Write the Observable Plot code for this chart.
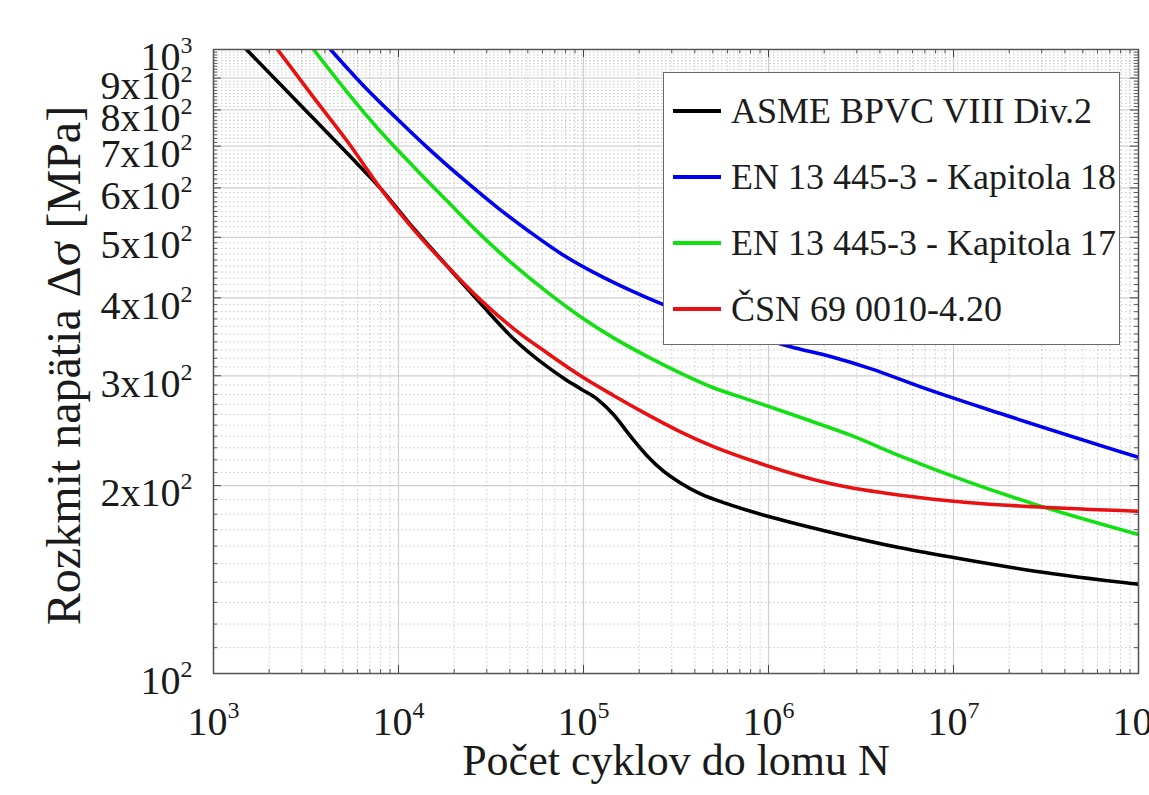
<!DOCTYPE html>
<html>
<head>
<meta charset="utf-8">
<script src="https://cdn.jsdelivr.net/npm/d3@7"></script>
<script src="https://cdn.jsdelivr.net/npm/@observablehq/plot@0.6"></script>
<style>
  html, body { margin: 0; padding: 0; background: #fff; overflow: hidden; }
  #wrap { position: relative; width: 1149px; height: 795px; }
  #legend {
    position: absolute; left: 663px; top: 72px; width: 455px; height: 271px;
    border: 1.5px solid #6a6a6a; background: #fff;
    font-family: "Liberation Serif", "Times New Roman", serif; font-size: 36px; color: #1c1c1c;
  }
  .row { position: absolute; left: 0; height: 40px; display: flex; align-items: center; white-space: nowrap; }
  .swatch { width: 48px; height: 4px; margin-left: 9px; margin-right: 10px; }
</style>
</head>
<body>
<div id="wrap"></div>
<script>
// ---- Axis ticks / labels ----
const xTickValues = [1e3, 1e4, 1e5, 1e6, 1e7, 1e8];
const xTickLabels = ["10^3", "10^4", "10^5", "10^6", "10^7", "10^8"];
const yTickValues = [100, 200, 300, 400, 500, 600, 700, 800, 900, 1000];
const yTickLabels = ["10^2", "2x10^2", "3x10^2", "4x10^2", "5x10^2", "6x10^2", "7x10^2", "8x10^2", "9x10^2", "10^3"];
const xTitle = "Počet cyklov do lomu N";
const yTitle = "Rozkmit napätia Δσ [MPa]";

// ---- Series ----
const seriesNames = ["ASME BPVC VIII Div.2", "EN 13 445-3 - Kapitola 18", "EN 13 445-3 - Kapitola 17", "ČSN 69 0010-4.20"];
const seriesColors = ["#000000", "#0000f0", "#12e012", "#e81010"];

const asmeN = [1507, 2302, 3475, 5300, 7990, 12060, 18400, 27740, 41850, 63900, 79940, 96300, 119100, 145200, 179500, 221800, 270600, 334300, 429000, 600000, 906000, 2246000, 5170000, 11910000, 27060000, 100000000];
const asmeS = [1000, 879, 775, 681, 599, 517, 449, 392, 344, 310, 296, 286, 275, 260, 240, 223, 211, 202, 194, 187, 180, 168, 159, 152, 146, 139];

const en18N = [4290, 6470, 9880, 14890, 22460, 34280, 51760, 77950, 119100, 179500, 270600, 429000, 751000, 1315000, 2163000, 3558000, 6637000, 17950000, 100000000];
const en18S = [1000, 875, 773, 689, 619, 558, 509, 468, 436, 411, 390, 371, 351, 334, 322, 308, 288, 261, 222];

const en17N = [3475, 5300, 7990, 12060, 18400, 27740, 41850, 63900, 96300, 145200, 221800, 334300, 504500, 769700, 1161000, 1750000, 2774000, 5170000, 11910000, 27060000, 100000000];
const en17S = [1000, 853, 739, 649, 571, 505, 452, 408, 373, 345, 322, 303, 287, 275, 264, 253, 241, 223, 203, 187, 167];

const csnN = [2218, 3475, 5300, 7990, 12060, 18400, 27740, 41850, 63900, 96300, 145200, 221800, 334300, 504500, 906000, 2246000, 5170000, 11910000, 27060000, 100000000];
const csnS = [1000, 838, 712, 599, 515, 449, 397, 357, 326, 300, 279, 260, 244, 231, 217, 201, 193, 188, 185, 182];

const seriesData = [[asmeN, asmeS], [en18N, en18S], [en17N, en17S], [csnN, csnS]];
const rows = seriesData.flatMap(([N, S], i) => N.map((n, j) => ({series: seriesNames[i], N: n, S: S[j]})));

// minor ticks
const xMinor = [];
for (const dec of [1e3, 1e4, 1e5, 1e6, 1e7]) for (let k = 2; k <= 9; k++) xMinor.push(k * dec);
const yMinor = [];
for (let v = 110; v < 1000; v += 10) if (v % 100 !== 0) yMinor.push(v);

const W = 1149, H = 795, mL = 213, mR = 11, mT = 49, mB = 122;
const fw = W - mL - mR, fh = H - mT - mB;
const font = "Liberation Serif";

const chart = Plot.plot({
  width: W, height: H,
  marginLeft: mL, marginRight: mR, marginTop: mT, marginBottom: mB,
  style: {fontFamily: font, background: "#fff", overflow: "visible"},
  x: {type: "log", domain: [1e3, 1e8], axis: null},
  y: {type: "log", domain: [100, 1000], axis: null},
  color: {domain: seriesNames, range: seriesColors},
  marks: [
    Plot.gridX(xMinor, {stroke: "#c8c8c8", strokeOpacity: 1, strokeDasharray: "1.5,2.5", strokeWidth: 1}),
    Plot.gridY(yMinor, {stroke: "#c8c8c8", strokeOpacity: 1, strokeDasharray: "1.5,2.5", strokeWidth: 1}),
    Plot.gridX(xTickValues, {stroke: "#cfcfcf", strokeOpacity: 1, strokeWidth: 1.2}),
    Plot.gridY(yTickValues, {stroke: "#cfcfcf", strokeOpacity: 1, strokeWidth: 1.2}),
    // inward ticks on all four sides
    Plot.tickX(xMinor, {x: d => d, insetTop: fh - 4, stroke: "#555"}),
    Plot.tickX(xMinor, {x: d => d, insetBottom: fh - 4, stroke: "#555"}),
    Plot.tickX(xTickValues, {x: d => d, insetTop: fh - 8, stroke: "#444"}),
    Plot.tickX(xTickValues, {x: d => d, insetBottom: fh - 8, stroke: "#444"}),
    Plot.tickY(yMinor, {y: d => d, insetRight: fw - 4, stroke: "#555"}),
    Plot.tickY(yMinor, {y: d => d, insetLeft: fw - 4, stroke: "#555"}),
    Plot.tickY(yTickValues, {y: d => d, insetRight: fw - 8, stroke: "#444"}),
    Plot.tickY(yTickValues, {y: d => d, insetLeft: fw - 8, stroke: "#444"}),
    Plot.line(rows, {x: "N", y: "S", z: "series", stroke: "series", strokeWidth: 3.6, curve: "monotone-x", clip: true}),
    Plot.frame({stroke: "#555", strokeWidth: 1.5}),
    // tick labels
    Plot.text(xTickValues, {x: d => d, frameAnchor: "bottom", dy: 61, text: (d, i) => xTickLabels[i], fontSize: 40, fill: "#1a1a1a", textAnchor: "middle"}),
    Plot.text(yTickValues, {y: d => d, frameAnchor: "left", dx: -21, dy: 8, text: (d, i) => yTickLabels[i], fontSize: 40, fill: "#1a1a1a", textAnchor: "end"}),
    // axis titles
    Plot.text([xTitle], {frameAnchor: "bottom", dy: 101, text: d => d, fontSize: 44, fill: "#1a1a1a", textAnchor: "middle"}),
    Plot.text([yTitle], {frameAnchor: "left", dx: -149, dy: 4, rotate: -90, text: d => d, fontSize: 48, fill: "#1a1a1a", textAnchor: "middle"})
  ]
});

// superscript exponents
d3.select(chart).selectAll("text").each(function() {
  const t = this.textContent;
  if (t.includes("^")) {
    const [base, exp] = t.split("^");
    const sel = d3.select(this);
    sel.text(null);
    sel.append("tspan").text(base);
    sel.append("tspan").attr("dy", -17).attr("font-size", 24).text(exp);
  }
});

const wrap = document.getElementById("wrap");
wrap.appendChild(chart);

// legend
const legend = document.createElement("div");
legend.id = "legend";
seriesNames.forEach((name, i) => {
  const row = document.createElement("div");
  row.className = "row";
  row.style.top = (38 + i * 66 - 20) + "px";
  const sw = document.createElement("div");
  sw.className = "swatch";
  sw.style.background = seriesColors[i];
  const tx = document.createElement("span");
  tx.textContent = name;
  row.appendChild(sw);
  row.appendChild(tx);
  legend.appendChild(row);
});
wrap.appendChild(legend);
</script>
</body>
</html>
